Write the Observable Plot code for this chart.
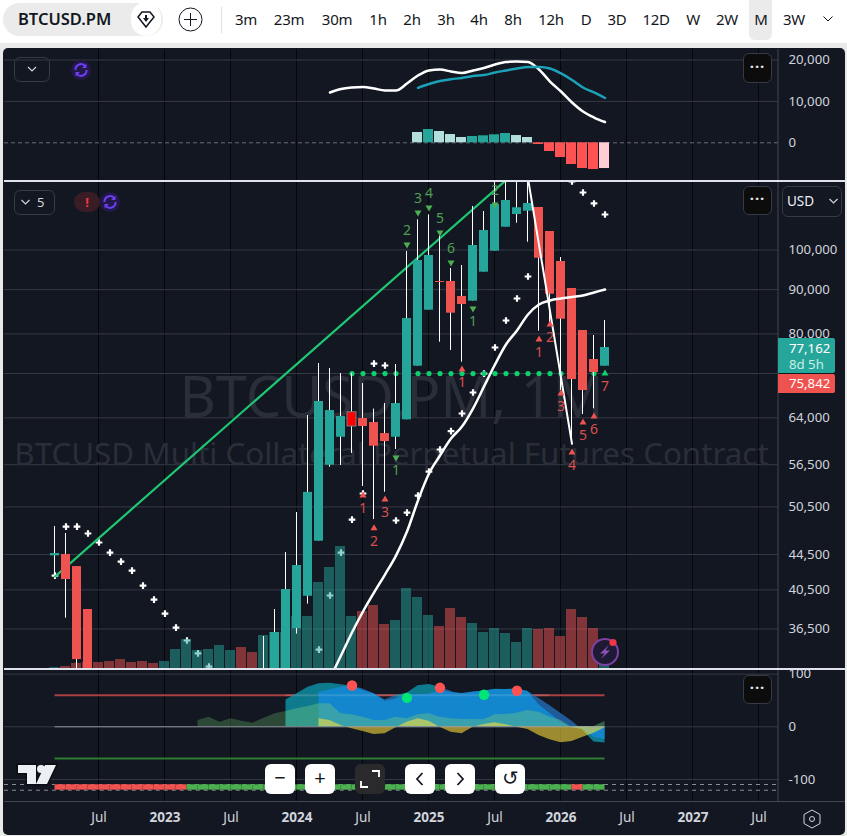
<!doctype html>
<html><head><meta charset="utf-8">
<script src="https://cdn.jsdelivr.net/npm/d3@7"></script>
<script src="https://cdn.jsdelivr.net/npm/@observablehq/plot@0.6"></script>
<style>
html,body{margin:0;padding:0;background:#e9e9ea;width:847px;height:836px;overflow:hidden;font-family:"Noto Sans",sans-serif}
#top{position:absolute;left:0;top:0;width:847px;height:43px;background:#fff}
#panel{position:absolute;left:3px;top:48px;width:842px;height:787px;background:#131722;border-radius:5px}
#chart{position:absolute;left:0;top:0;width:847px;height:836px}
#chart svg{position:absolute;left:0}
.abs{position:absolute}
.tf{position:absolute;top:8px;transform:translateX(-50%);font-size:15px;color:#131722;line-height:22px;letter-spacing:-.3px}
.btn{position:absolute;box-sizing:border-box;border-radius:6px}
.dots{background:#0c0c0d;border:1px solid #363a45;color:#e8e8ea;text-align:center;font-size:15px;font-weight:700;letter-spacing:1px}
.out{border:1px solid #363a45;color:#d1d4dc;font-size:13px}
.wb{background:#fff;border-radius:6px;color:#131722;text-align:center;position:absolute;top:764px;height:30px;width:30px;line-height:28px;font-size:20px}
</style></head><body>
<div id="top"></div>
<div id="panel"></div>
<div id="chart"></div>
<script>
// ---------- price candles (month index: 0 = Jul 2022) ----------
const candleMonths = [-4,-3,-2,-1,15,16,17,18,19,20,21,22,23,24,25,26,27,28,29,30,31,32,33,34,35,36,37,38,39,40,41,42,43,44,45,46];
const opens  = [44340,44490,43090,38440,31000,32000,32400,36540,39820,46100,56420,60780,64960,63880,63200,61380,60780,63660,73420,85210,91960,91960,88370,87270,94270,99680,106250,109900,110870,111970,105040,96990,90270,80730,74730,73420];
const closes = [44610,41630,33650,32000,32000,36160,40540,43210,52490,66840,65250,64220,62540,62540,59350,60090,66480,83340,97250,98550,91720,84530,86510,101200,105320,112860,114070,111880,113170,97840,88910,83190,70860,68820,72190,77160];
const highs  = [47930,47050,43090,38440,35780,38440,44730,49750,64390,73940,72970,72000,72000,70110,65500,66480,73750,99600,108360,109810,103740,95200,95960,112270,110780,125000,125000,125000,125000,111970,105040,98020,90270,80730,79660,82900];
const lows   = [42070,37560,32000,31000,30000,31000,32000,36000,39000,46100,56120,56380,58210,53310,48830,52510,58830,63660,73420,85210,78250,76540,74200,87270,94270,99680,106250,107390,102090,80580,81590,68820,59730,64560,65550,73420];
// ---------- volume ----------
const volumeMonths = [-4,-3,-2,-1,0,1,2,3,4,5,6,7,8,9,10,11,12,13,14,15,16,17,18,19,20,21,22,23,24,25,26,27,28,29,30,31,32,33,34,35,36,37,38,39,40,41,42,43,44,45,46];
const volumes = [1,2,5,6,6,7,9,6,7,5,7,19,29,18,19,23,18,21,16,33,36,36,52,52,86,101,122,52,57,63,44,48,80,71,53,42,60,51,45,36,40,35,26,40,39,40,32,59,51,40,3];
const volumeUp = [1,0,0,0,0,0,0,0,0,0,1,1,1,1,1,1,1,0,0,1,1,1,1,1,1,1,1,1,0,0,0,1,1,1,1,0,0,0,1,1,1,1,1,1,0,0,0,0,0,0,1];
// ---------- moving average on price ----------
const maMonths = [21,22,23,24,25,26,27,28,29,30,31,32,33,34,35,36,37,38,39,40,41,42,43,44,45,46];
const maValues = [32000,34010,36160,38240,40210,42190,44370,47300,51370,55190,57900,60570,62540,65600,69550,73750,77780,80730,84240,86510,87430,87900,88250,88600,89310,90030];
// ---------- parabolic stop markers ----------
const sarMonths = [-4,-3,-2,-1,0,1,2,3,4,5,6,7,8,9,10,20,21,22,23,24,25,26,27,28,29,30,31,32,33,34,35,36,37,38,39,43,44,45,46];
const sarValues = [42070,47930,47930,47050,45940,44730,43670,42640,40970,39470,38030,36640,35400,34200,33030,34560,39900,44730,48830,52330,73940,73550,48710,49750,52050,55480,58830,61790,64740,68460,72000,77160,82900,87900,93190,119980,116520,113170,109900];
// ---------- level dots ----------
const levelMonths = [23,24,25,26,27,28,29,30,31,32,33,34,35,36,37,38,39,40,41,42,43,44,45];
const levelPrice = 72000;
// ---------- trend and zigzag lines ----------
const trendMonths = [-4,38];
const trendPrices = [41960,123540];
const zigMonths = [39,43];
const zigPrices = [120940,59730];
// ---------- sequential count markers ----------
const seqMonths = [28,29,30,31,32,36,34,27,24,25,26,33,40,41,42,43,44,45,46];
const seqPrices = [101470,110490,111970,104760,96730,112860,85590,57590,52050,47720,51500,72780,78820,82030,68270,58360,63200,64220,72000];
const seqLabels = ["2","3","4","5","6","2","1","1","1","2","3","1","1","2","3","4","5","6","7"];
const seqKinds  = ["gd","gd","gd","gd","gd","gd","gu","gu","ru","ru","ru","ru","ru","ru","ru","ru","ru","ru","x"];
// ---------- MACD ----------
const macdMonths = [21,22,23,24,25,26,27,28,29,30,31,32,33,34,35,36,37,38,39,40,41,42,43,44,45,46];
const macdValues = [12150,12990,13350,13480,13110,12630,12630,14320,16250,17460,17700,17220,16860,17460,18060,18910,19510,19630,19510,17700,14800,12390,9730,7560,6110,5020];
const signalMonths = [29,30,31,32,33,34,35,36,37,38,39,40,41,42,43,44,45,46];
const signalValues = [13280,14200,14920,15360,15650,16130,16370,16980,17460,17940,18310,18310,17940,16740,15170,13350,12150,10820];
const histValues = [2490,3210,2730,2000,1280,1520,1690,1930,2250,1760,1280,-410,-2100,-3550,-5240,-6210,-6450,-6210];
const histColors = ["#b2dfdb","#26a69a","#b2dfdb","#b2dfdb","#b2dfdb","#26a69a","#26a69a","#26a69a","#26a69a","#b2dfdb","#b2dfdb","#ff5252","#ff5252","#ff5252","#ff5252","#ff5252","#ff5252","#ffcdd2"];
// ---------- oscillator ----------
const greenMonths = [9,10,11,12,13,14,15,16,17,18,19,20,21,22,23,24,25,26,27,28,29,30,31,32,33,34,35,36,37,38,39,40,41,42,43,44,45,46];
const greenValues = [12,18.2,8.7,15.2,10.6,6.8,16.3,24.7,29,34.2,38.6,43.7,43.7,24.7,22.8,18.2,12,12,18.2,15.2,22.8,24.7,18.2,15.2,13.9,13.9,13.3,22.8,23.4,25.8,31,27.7,18.2,12,-0.8,-3.8,0.6,10];
const envelopeMonths = [17,18,19,20,21,22,23,24,25,26,27,28,29,30,31,32,33,34,35,36,37,38,39,40,41,42,43,44,45,46];
const envelopeValues = [51,62.7,75,81.7,82.8,79.8,77,72,62.7,51.3,59.4,63.8,77.8,80.3,75.2,67.6,56.2,63.8,67,71.4,70.8,72,67,53.7,40,25,10.6,-7,-29,-31];
const envelopeRuns = [[17,23,"#0e7f95"],[23,27,"#205f9f"],[27,31,"#0e7f95"],[31,33,"#205f9f"],[33,39,"#0e7f95"],[39,44,"#205f9f"],[44,46,"#0e7f95"]];
const blueMonths = [20,21,22,23,24,25,26,27,28,29,30,31,32,33,34,35,36,37,38,39,40,41,42,43,44,45,46];
const blueValues = [65.7,70,75,77,69,62.7,48.6,53,62,61,62,69,65.7,63,66,68,71,71,71,67,42,25,8.7,-2,-5,-19.7,-24];
const yellowValues = [15.2,12,2.5,-3.8,-8.9,-14.6,-13.3,-1.9,8.7,15.2,10.6,-0.8,-10.3,-13.3,-0.8,4.4,7.6,3.8,-0.8,-5.1,-16.5,-24.7,-30.4,-27.9,-19.8,-12.2,-1.9];
const oscDotMonths = [23,31,38,28,35];
const oscDotValues = [78.4,74,68.4,55,60.8];
const oscDotColors = ["#ff5252","#ff5252","#ff5252","#00e676","#00e676"];
const bandMonths = volumeMonths.slice(0, -1);
const bandStates = ["r","r","r","r","r","r","r","r","r","r","r","r","g","g","g","g","g","g","g","g","g","g","g","g","g","g","g","g","g","g","g","g","g","g","g","g","g","g","g","g","g","g","g","g","g","g","g","r","g","g"];
// ---------- axes ----------
const timeTickMonths = [0,12,24,36,48,60];
const timeTickLabels = ["Jul","Jul","Jul","Jul","Jul","Jul"];
const yearTickMonths = [6,18,30,42,54];
const yearTickLabels = ["2023","2024","2025","2026","2027"];
const priceGrid = [100000,90000,80000,72000,64000,56500,50500,44500,40500,36500];
const priceLabelled = [100000,90000,80000,64000,56500,50500,44500,40500,36500];
const macdTicks = [20000,10000,0];
const oscTicks = [100,0,-100];

const zip = (xs, ys) => xs.map((m, i) => ({m, v: ys[i]}));
const candles = candleMonths.map((m, i) => ({m, o: opens[i], c: closes[i], h: highs[i], l: lows[i], highlight: m === 23}));
const vols = volumeMonths.map((m, i) => ({m, v: volumes[i], up: volumeUp[i]}));
const seq = seqMonths.map((m, i) => ({m, v: seqPrices[i], t: seqLabels[i], k: seqKinds[i]}));
const hist = signalMonths.map((m, i) => ({m, v: histValues[i], col: histColors[i]}));
const envelope = zip(envelopeMonths, envelopeValues);
const greens = zip(greenMonths, greenValues);

const FONT = '"Noto Sans", sans-serif';
const xScale = {type: "linear", domain: [-8.5909, 61.7727], range: [4, 778], axis: null};
const GRID = "#363a45", VGRID = "#050608", AXIS = "#d1d4dc";
const vgrid = [...timeTickMonths, ...yearTickMonths];
const host = document.getElementById("chart");
function layer(top, height, marginBottom, y, marks) {
  const svg = Plot.plot({width: 847, height, marginLeft: 4, marginRight: 69, marginTop: 0, marginBottom,
    x: xScale, y: {...y, axis: null}, style: {background: "transparent", fontFamily: FONT, overflow: "visible"}, marks});
  svg.style.top = top + "px";
  host.appendChild(svg);
}
const grids = (vals, col) => [
  Plot.ruleX(vgrid, {x: d => d, stroke: VGRID, strokeWidth: 1, dx: -0.5}),
  Plot.ruleY(vals, {y: d => d, stroke: col || GRID, strokeWidth: 1})
];
const rightAxis = (ticks, fmt) => Plot.axisY(ticks, {anchor: "right", tickSize: 0, tickPadding: 10, tickFormat: fmt, fontSize: 13.2, fill: AXIS, textAnchor: "start", label: null});

// ------ MACD pane
const macdY = {type: "linear", domain: [-9100, 22530]};
layer(49, 131, 0, macdY, [
  Plot.ruleX(vgrid, {x: d => d, stroke: VGRID, dx: -0.5}),
  Plot.ruleY([20000, 10000], {y: d => d, stroke: GRID}),
  Plot.ruleY([0], {y: d => d, stroke: "#6a6d78", strokeDasharray: "4,3"}),
  Plot.rect(hist, {x1: d => d.m - 0.4545, x2: d => d.m + 0.4545, y1: 0, y2: "v", fill: "col", dx: -0.5}),
  Plot.line(zip(macdMonths, macdValues), {x: "m", y: "v", stroke: "#ffffff", strokeWidth: 2.5, curve: "monotone-x"}),
  Plot.line(zip(signalMonths, signalValues), {x: "m", y: "v", stroke: "#1ca2b8", strokeWidth: 2.5, curve: "monotone-x"}),
  Plot.ruleX([61.7727], {stroke: "#434651", x: d => d, dx: -0.5}),
  rightAxis(macdTicks, d3.format(","))
]);

// ------ main pane: grid, watermark and markers under the volume
const priceY = {type: "log", domain: [32860, 119980]};
layer(181, 487, 0, priceY, [
  ...grids(priceGrid),
  Plot.text(["BTCUSD.PM, 1M"], {frameAnchor: "middle", dy: -26, fontSize: 56, fill: "#2a2e39", fontWeight: 400}),
  Plot.text(["BTCUSD Multi Collateral Perpetual Futures Contract"], {frameAnchor: "middle", dy: 30, fontSize: 31.3, fill: "#2a2e39", fontWeight: 400}),
  Plot.dot(zip(sarMonths, sarValues), {x: "m", y: "v", symbol: "plus", r: 2.3, stroke: "#ffffff", strokeWidth: 2.2, clip: true}),
  Plot.line(zip(trendMonths, trendPrices), {x: "m", y: "v", stroke: "#1ec772", strokeWidth: 2.2, clip: true}),
  Plot.dot(levelMonths.map(m => ({m})), {x: "m", y: () => levelPrice, r: 2.6, fill: "#0fd06e", stroke: "none"})
]);
// ------ volume
layer(181, 487, 0, {type: "linear", domain: [0, 487]}, [
  Plot.rect(vols, {x1: d => d.m - 0.4545, x2: d => d.m + 0.4545, y1: 0, y2: "v", dx: -0.5,
    fill: d => d.up ? "#26a69a" : "#ef5350", fillOpacity: 0.5})
]);
// ------ main pane: candles and everything above the volume
layer(181, 487, 0, priceY, [
  Plot.ruleX(candles, {x: "m", y1: "l", y2: "h", stroke: "#ffffff", strokeWidth: 1, dx: -0.5, clip: true}),
  Plot.rect(candles, {x1: d => d.m - 0.409, x2: d => d.m + 0.409, y1: "o", y2: "c", clip: true,
    fill: d => d.highlight ? "#ff0000" : d.c >= d.o ? "#26a69a" : "#ef5350",
    stroke: d => d.highlight ? "#787b86" : "none"}),
  Plot.line(zip(maMonths, maValues), {x: "m", y: "v", stroke: "#ffffff", strokeWidth: 2.5, curve: "monotone-x", clip: true}),
  Plot.line(zip(zigMonths, zigPrices), {x: "m", y: "v", stroke: "#ffffff", strokeWidth: 2, clip: true}),
  Plot.dot(seq.filter(d => d.k === "gd"), {x: "m", y: "v", symbol: "triangle", rotate: 180, r: 2.6, fill: "#4caf50", clip: true}),
  Plot.text(seq.filter(d => d.k === "gd"), {x: "m", y: "v", text: "t", dy: -14, fontSize: 14, fill: "#4f9e54", clip: true}),
  Plot.dot(seq.filter(d => d.k === "gu"), {x: "m", y: "v", symbol: "triangle", rotate: 180, r: 2.6, fill: "#4caf50"}),
  Plot.text(seq.filter(d => d.k === "gu"), {x: "m", y: "v", text: "t", dy: 13, fontSize: 14, fill: "#4f9e54"}),
  Plot.dot(seq.filter(d => d.k === "ru"), {x: "m", y: "v", symbol: "triangle", r: 2.6, fill: "#ef5350"}),
  Plot.text(seq.filter(d => d.k === "ru"), {x: "m", y: "v", text: "t", dy: 13, fontSize: 14, fill: "#d9504e"}),
  Plot.dot(seq.filter(d => d.k === "x"), {x: "m", y: "v", symbol: "triangle", r: 2.6, fill: "#0fd06e"}),
  Plot.text(seq.filter(d => d.k === "x"), {x: "m", y: "v", text: "t", dy: 13, fontSize: 14, fill: "#d9504e"}),
  Plot.ruleX([61.7727], {stroke: "#434651", x: d => d, dx: -0.5}),
  rightAxis(priceLabelled, d3.format(","))
]);

// ------ oscillator pane with time axis
const oscY = {type: "linear", domain: [-141.9, 108.8]};
layer(669, 167, 35, oscY, [
  Plot.ruleX(vgrid, {x: d => d, stroke: VGRID, dx: -0.5}),
  Plot.ruleY(oscTicks, {y: d => d, stroke: GRID}),
  Plot.ruleY([60], {y: d => d, x1: -4, x2: 46, stroke: "#a83f41", strokeWidth: 2}),
  Plot.ruleY([-60], {y: d => d, x1: -4, x2: 46, stroke: "#2e7d32", strokeWidth: 2}),
  ...envelopeRuns.map(([a, b, col]) => Plot.areaY(envelope.filter(d => d.m >= a && d.m <= b), {x: "m", y1: 0, y2: "v", fill: col, fillOpacity: 0.95})),
  Plot.areaY(zip(blueMonths, blueValues), {x: "m", y1: 0, y2: "v", fill: "#1487d0", fillOpacity: 0.97}),
  Plot.areaY(greens, {x: "m", y1: 0, y2: "v", fill: "#66bb6a", fillOpacity: 0.3}),
  Plot.areaY(greens.filter(d => d.m >= 17), {x: "m", y1: 0, y2: "v", fill: "#7fe0a0", fillOpacity: 0.16}),
  Plot.areaY(zip(blueMonths, yellowValues), {x: "m", y1: 0, y2: "v", fill: "#ffe03b", fillOpacity: 0.58}),
  Plot.ruleY([60], {y: d => d, x1: 17, x2: 41, stroke: "#ffffff", strokeOpacity: 0.13, strokeWidth: 2}),
  Plot.ruleY([0], {y: d => d, x1: -4, x2: 46, stroke: "#a0a3ad", strokeOpacity: 0.85, strokeWidth: 1}),
  Plot.dot(oscDotMonths.map((m, i) => ({m, v: oscDotValues[i], c: oscDotColors[i]})), {x: "m", y: "v", r: 5.2, fill: "c", stroke: "none"}),
  Plot.ruleY([-109.6, -120.5], {y: d => d, stroke: "#b2b5be", strokeOpacity: 0.75, strokeDasharray: "4,4"}),
  Plot.rect(bandMonths.map((m, i) => ({m, s: bandStates[i]})), {x1: d => d.m, x2: d => d.m + 1, y1: -109.6, y2: -120.5,
    fill: d => d.s === "r" ? "#ef5350" : "#4caf50"}),
  Plot.ruleY([-109.6, -120.5], {y: d => d, x1: -4, x2: 46, stroke: "#131722", strokeOpacity: 0.3, strokeDasharray: "4,4"}),
  Plot.ruleX([61.7727], {stroke: "#434651", x: d => d, dx: -0.5, y1: 108.8, y2: -141.9}),
  rightAxis(oscTicks, d => d < 0 ? "-" + Math.abs(d) : String(d)),
  Plot.axisX(timeTickMonths, {anchor: "bottom", tickSize: 0, tickPadding: 11, tickFormat: (d, i) => timeTickLabels[i], fontSize: 13.5, fill: AXIS, label: null}),
  Plot.axisX(yearTickMonths, {anchor: "bottom", tickSize: 0, tickPadding: 11, tickFormat: (d, i) => yearTickLabels[i], fontSize: 13.5, fontWeight: 700, fill: AXIS, label: null})
]);

// ------ chrome: toolbar, badges and buttons
function el(html) { const t = document.createElement("template"); t.innerHTML = html.trim(); document.body.appendChild(t.content.firstChild); }
const tfLabels = ["3m","23m","30m","1h","2h","3h","4h","8h","12h","D","3D","12D","W","2W","M","3W"];
const tfX = [246,289,337,378,412,446,479,513,551,586,617,656,693,727,761,794];
el('<div class="abs" style="left:749px;top:0;width:23px;height:40px;background:#ebebeb;border-radius:0 0 6px 6px"></div>');
tfLabels.forEach((t, i) => el(`<div class="tf" style="left:${tfX[i]}px">${t}</div>`));
el('<div class="abs" style="left:3px;top:3px;width:160px;height:33px;background:#ebebeb;border-radius:17px"></div>');
el('<div class="abs" style="left:18px;top:7px;font-size:16.5px;font-weight:600;color:#131722;line-height:24px">BTCUSD.PM</div>');
el('<div class="abs" style="left:131px;top:2px;width:30px;height:34px;border-radius:17px;background:#fff"></div>');
el('<svg class="abs" style="left:136px;top:11px" width="20" height="18" viewBox="0 0 20 18"><path d="M2 6 L6 1 H14 L18 6 L10 16 Z" fill="none" stroke="#131722" stroke-width="1.5"/><path d="M7 7 H13 L10 11 Z M9 4 h2 v4 h-2 Z" fill="#131722"/></svg>');
el('<svg class="abs" style="left:178px;top:7px" width="25" height="25"><circle cx="12.5" cy="12.5" r="11.5" fill="none" stroke="#131722" stroke-width="1"/><path d="M12.5 6 V19 M6 12.5 H19" stroke="#131722"/></svg>');
el('<div class="abs" style="left:221px;top:7px;width:1px;height:26px;background:#e0e0e0"></div>');
el('<svg class="abs" style="left:822px;top:15px" width="12" height="8"><path d="M1.5 1.5 L6 6 L10.5 1.5" fill="none" stroke="#131722"/></svg>');
// pane controls
[[743,53,83],[743,186,215],[743,675,704]].forEach(([x, y0, y1]) =>
  el(`<div class="btn dots" style="left:${x}px;top:${y0}px;width:29px;height:${y1 - y0}px;line-height:${y1 - y0 - 6}px">···</div>`));
el('<div class="btn out" style="left:14px;top:57px;width:36px;height:25px"><svg width="34" height="23"><path d="M13 9 L17 13 L21 9" fill="none" stroke="#d1d4dc" stroke-width="1.2"/></svg></div>');
el('<div class="btn out" style="left:14px;top:190px;width:41px;height:25px;line-height:23px;padding-left:5px"><svg width="12" height="8" style="margin-right:5px"><path d="M1.5 1 L5.5 5 L9.5 1" fill="none" stroke="#d1d4dc" stroke-width="1.2"/></svg>5</div>');
el('<div class="btn" style="left:74px;top:192px;width:26px;height:20px;border-radius:10px;background:#3a1d24;color:#f23645;font-size:13px;font-weight:700;text-align:center;line-height:20px">!</div>');
const refresh = (x, y) => `<svg class="abs" style="left:${x - 11}px;top:${y - 11}px" width="22" height="22"><circle cx="11" cy="11" r="10" fill="#22184a"/><path d="M5.5 11 A5.5 5.5 0 0 1 15.5 7.5 M16.5 11 A5.5 5.5 0 0 1 6.5 14.5" fill="none" stroke="#6d3ff0" stroke-width="2"/><path d="M16.5 4.5 V9 H12 Z M5.5 17.5 V13 H10 Z" fill="#6d3ff0"/></svg>`;
el(refresh(81, 70)); el(refresh(110, 202));
el('<div class="btn out" style="left:782px;top:186px;width:60px;height:31px;font-size:13.5px;line-height:29px;padding-left:4px;color:#eceff5">USD<svg width="12" height="8" style="margin-left:14px"><path d="M1.5 1 L5.5 5 L9.5 1" fill="none" stroke="#d1d4dc" stroke-width="1.2"/></svg></div>');
el('<div class="abs" style="left:778px;top:338px;width:57px;height:35px;background:#26a69a;border-radius:0 2px 2px 0;color:#fff;font-size:13.2px;line-height:16px;padding:2px 0 0 11px;box-sizing:border-box"><div>77,162</div><div style="color:#c8efe9">8d 5h</div></div>');
el('<div class="abs" style="left:778px;top:374px;width:57px;height:19px;background:#ef5350;border-radius:0 2px 2px 0;color:#fff;font-size:13.2px;line-height:18px;padding-left:11px;box-sizing:border-box">75,842</div>');
// bolt badge
el('<svg class="abs" style="left:590px;top:637px" width="30" height="30"><circle cx="15" cy="15" r="13" fill="#1f1a33" stroke="#7e3fa5" stroke-width="2"/><path d="M19 8 L10 16.5 H14.5 L11 22 L20 13.5 H15.5 Z" fill="#8e4fb8"/><circle cx="23" cy="5.5" r="3.6" fill="#f23645"/></svg>');
// logo
el('<svg class="abs" style="left:15px;top:762px" width="44" height="25"><path d="M3 3 H21 V22 H12 V11 H3 Z M41 3 H30 L21 22 H32 Z" fill="#eceff4" stroke="#0b0d12" stroke-width="3" paint-order="stroke"/><circle cx="26" cy="7" r="4" fill="#eceff4"/></svg>');
// bottom buttons
const wb = [[265,"−"],[305,"+"],[495,"↺"]];
wb.forEach(([x, t]) => el(`<div class="wb" style="left:${x}px">${t}</div>`));
el('<div class="wb" style="left:405px"><svg width="30" height="30"><path d="M17.5 9 L12 15 L17.5 21" fill="none" stroke="#131722" stroke-width="1.8"/></svg></div>');
el('<div class="wb" style="left:445px"><svg width="30" height="30"><path d="M12.5 9 L18 15 L12.5 21" fill="none" stroke="#131722" stroke-width="1.8"/></svg></div>');
el('<div class="abs" style="left:355px;top:764px;width:30px;height:30px;background:#2a2a2d;border-radius:6px"><svg width="30" height="30"><path d="M17 7 H24 V13 M13 23 H6 V17" fill="none" stroke="#fff" stroke-width="1.8"/></svg></div>');
el('<svg class="abs" style="left:801px;top:808px" width="22" height="22"><path d="M11 2 L19 6.5 V15.5 L11 20 L3 15.5 V6.5 Z" fill="none" stroke="#d1d4dc"/><circle cx="11" cy="11" r="2.5" fill="none" stroke="#d1d4dc"/></svg>');
// pane separators
el('<div class="abs" style="left:4px;top:180px;width:841px;height:1.5px;background:#e0e3eb"></div>');
el('<div class="abs" style="left:4px;top:668px;width:841px;height:2px;background:#e0e3eb"></div>');
el('<div class="abs" style="left:4px;top:801px;width:841px;height:1px;background:#434651"></div>');
</script>
</body></html>
